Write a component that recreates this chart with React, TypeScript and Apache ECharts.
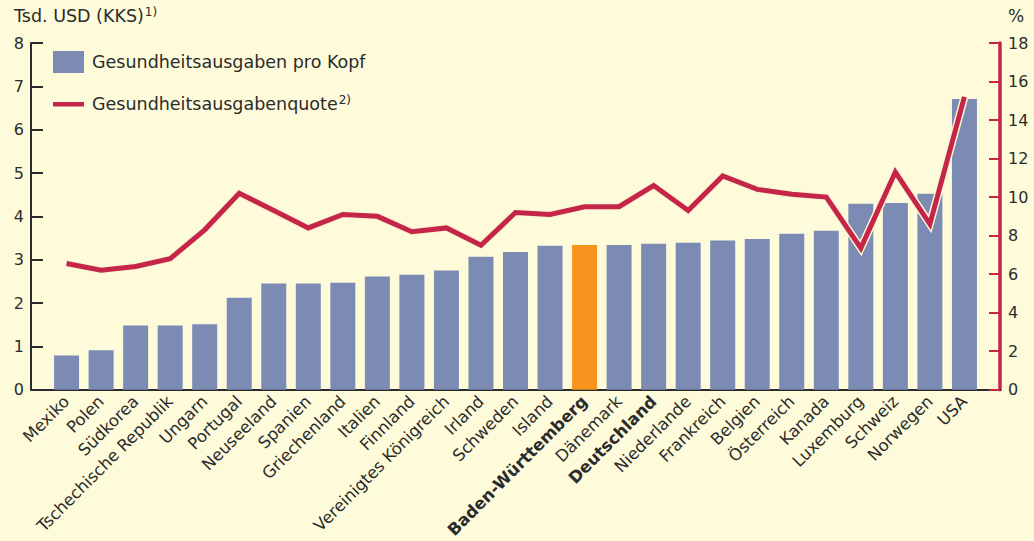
import React, { useEffect, useRef } from "react";
import * as echarts from "echarts";

const countries = [
  "Mexiko", "Polen", "Südkorea", "Tschechische Republik", "Ungarn", "Portugal",
  "Neuseeland", "Spanien", "Griechenland", "Italien", "Finnland",
  "Vereinigtes Königreich", "Irland", "Schweden", "Island", "Baden-Württemberg",
  "Dänemark", "Deutschland", "Niederlande", "Frankreich", "Belgien", "Österreich",
  "Kanada", "Luxemburg", "Schweiz", "Norwegen", "USA",
];
const spendingPerCapita = [
  0.79, 0.91, 1.48, 1.48, 1.51, 2.12, 2.45, 2.45, 2.47, 2.61, 2.65, 2.75, 3.07,
  3.18, 3.32, 3.34, 3.34, 3.37, 3.39, 3.44, 3.48, 3.6, 3.67, 4.29, 4.31, 4.52, 6.71,
];
const healthQuota = [
  6.55, 6.2, 6.4, 6.8, 8.3, 10.2, 9.3, 8.4, 9.1, 9.0, 8.2, 8.4, 7.5, 9.2, 9.1,
  9.5, 9.5, 10.6, 9.3, 11.1, 10.4, 10.15, 10.0, 7.35, 11.3, 8.6, 15.2,
];
const boldCountries = ["Baden-Württemberg", "Deutschland"];
const highlightCountry = "Baden-Württemberg";
const seriesBarName = "Gesundheitsausgaben pro Kopf";
const seriesLineName = "Gesundheitsausgabenquote";
const leftUnit = "Tsd. USD (KKS)";
const leftUnitNote = "1)";
const lineNote = "2)";
const rightUnit = "%";

const FONT = '"DejaVu Sans", "Liberation Sans", Arial, sans-serif';
const BG = "#fefbdb";
const BAR = "#7b8bb3";
const ORANGE = "#f7941d";
const RED = "#c42548";
const DARK = "#2b2b2b";

const LINE_ICON =
  "path://M0,0 L31,0 L31,0.01 Z M0,9 L31,9 L31,13.5 L0,13.5 Z M0,22 L31,22 L31,21.99 Z";

export default function App() {
  const ref = useRef<HTMLDivElement>(null);
  useEffect(() => {
    if (!ref.current) return;
    const chart = echarts.init(ref.current, null, { renderer: "svg" });
    const idx = countries.map((_, i) => i);
    chart.setOption({
      animation: false,
      backgroundColor: BG,
      textStyle: { fontFamily: FONT },
      grid: { left: 31, right: 34, top: 43, bottom: 151, containLabel: false },
      legend: {
        left: 48,
        top: 46,
        orient: "vertical",
        itemWidth: 31,
        itemHeight: 22,
        itemGap: 20,
        symbolKeepAspect: false,
        data: [
          { name: seriesBarName, icon: "rect" },
          { name: seriesLineName, icon: LINE_ICON, itemStyle: { color: RED, borderWidth: 0 } },
        ],
        textStyle: {
          fontFamily: FONT,
          fontSize: 17.5,
          color: DARK,
          padding: [0, 0, 0, 3],
          rich: {
            a: { fontFamily: FONT, fontSize: 17.5, color: DARK },
            s: { fontFamily: FONT, fontSize: 12, color: DARK, padding: [0, 0, 9, 1] },
          },
        },
        formatter: (name: string) =>
          name === seriesLineName ? `{a|${name}}{s|${lineNote}}` : `{a|${name}}`,
      },
      graphic: [
        {
          type: "text",
          left: 14,
          top: 6,
          style: {
            text: `{a|${leftUnit}}{s|${leftUnitNote}}`,
            rich: {
              a: { fontFamily: FONT, fontSize: 17.5, fill: DARK },
              s: { fontFamily: FONT, fontSize: 12, fill: DARK, padding: [0, 0, 8, 1] },
            },
          },
        },
        {
          type: "text",
          left: 1008,
          top: 7,
          style: { text: rightUnit, fontFamily: FONT, fontSize: 17, fill: DARK },
        },
      ],
      xAxis: {
        type: "value",
        min: -1.03,
        max: 27.03,
        splitLine: { show: false },
        axisLine: { show: true, onZero: false, lineStyle: { color: DARK, width: 2 } },
        axisTick: { show: false },
        axisLabel: {
          customValues: idx,
          rotate: 45,
          margin: 9,
          fontFamily: FONT,
          fontSize: 16.5,
          color: DARK,
          formatter: (v: number) => {
            const n = countries[Math.round(v)];
            if (n === undefined) return "";
            return boldCountries.includes(n) ? `{b|${n}}` : `{n|${n}}`;
          },
          rich: {
            n: { fontFamily: FONT, fontSize: 16.5, color: DARK },
            b: { fontFamily: FONT, fontSize: 16.5, color: DARK, fontWeight: "bold" },
          },
        },
      },
      yAxis: [
        {
          type: "value",
          min: 0,
          max: 8,
          interval: 1,
          position: "left",
          splitLine: { show: false },
          axisLine: { show: true, onZero: false, lineStyle: { color: DARK, width: 2 } },
          axisTick: { show: true, inside: true, length: 12, lineStyle: { color: DARK, width: 2 } },
          axisLabel: { margin: 7, fontFamily: FONT, fontSize: 16, color: DARK },
        },
        {
          type: "value",
          min: 0,
          max: 18,
          interval: 2,
          position: "right",
          splitLine: { show: false },
          axisLine: { show: true, onZero: false, lineStyle: { color: RED, width: 3.5 } },
          axisTick: { show: true, inside: true, length: 11, lineStyle: { color: RED, width: 2 } },
          axisLabel: { margin: 8, fontFamily: FONT, fontSize: 16, color: DARK },
        },
      ],
      series: [
        {
          name: seriesBarName,
          type: "bar",
          barWidth: 25,
          itemStyle: { color: BAR },
          data: spendingPerCapita.map((v, i) => ({
            value: [i, v],
            itemStyle: { color: countries[i] === highlightCountry ? ORANGE : BAR },
          })),
        },
        {
          name: "outline",
          type: "line",
          yAxisIndex: 1,
          symbol: "none",
          silent: true,
          lineStyle: { color: "#fbf6d2", width: 8, join: "miter" },
          data: healthQuota.map((v, i) => [i, v]),
        },
        {
          name: seriesLineName,
          type: "line",
          yAxisIndex: 1,
          symbol: "none",
          itemStyle: { color: RED },
          lineStyle: { color: RED, width: 5, join: "miter" },
          data: healthQuota.map((v, i) => [i, v]),
        },
      ],
    });
    return () => chart.dispose();
  }, []);
  return (
    <div
      ref={ref}
      style={{ position: "fixed", left: 0, top: 0, width: 1034, height: 541, background: BG }}
    />
  );
}
